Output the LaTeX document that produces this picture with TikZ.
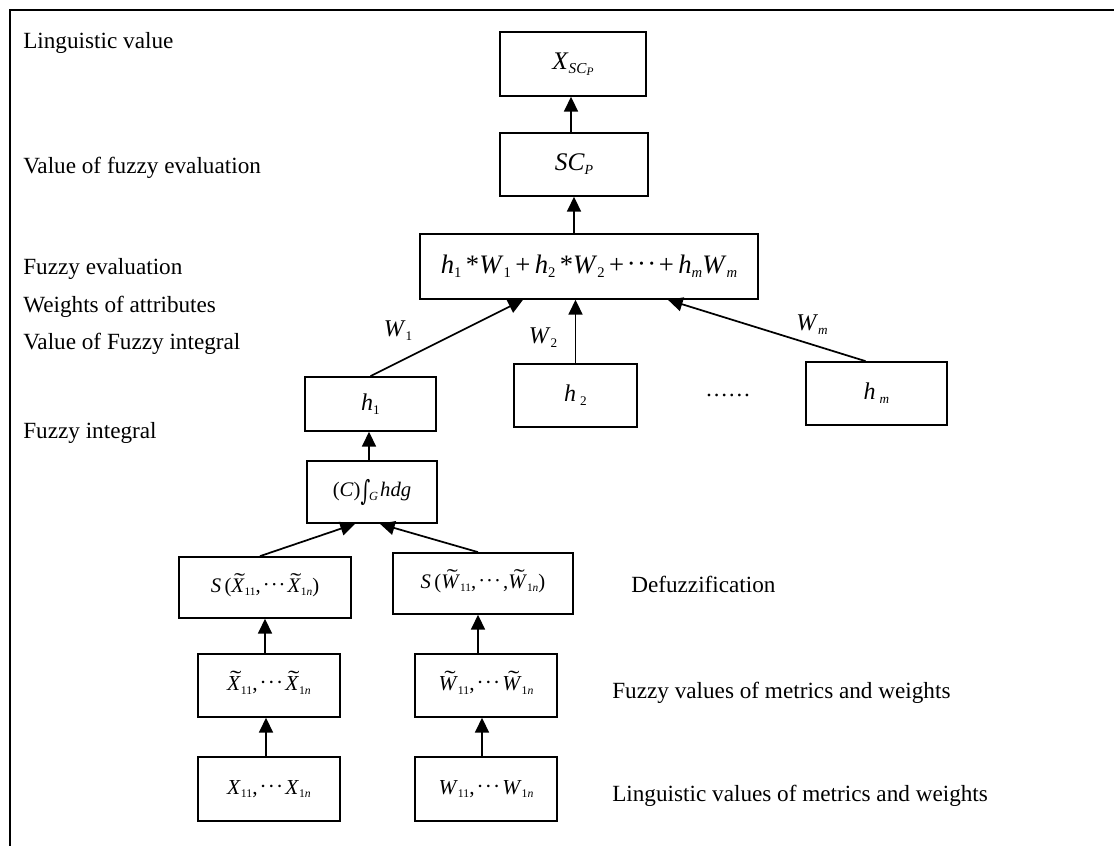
\documentclass[tikz,border=0pt]{standalone}
\usepackage{fontspec}
\usepackage{graphicx}
\setmainfont{Liberation Serif}
\newfontfamily\intfont{DejaVu Serif}
\usetikzlibrary{arrows.meta}
\newdimen\upx \upx=0.75pt
\makeatletter
% small lowered index, scaled from the current font size
\newcommand\lsub[2][0.55]{\raisebox{-0.35ex}{\fontsize{\the\dimexpr\f@size pt*\numexpr\dimexpr#1pt\relax\relax/65536\relax}{1em}\selectfont #2}}
\makeatother
% italic capital with a wide tilde above it
\newcommand\tw[1]{\leavevmode\setbox0=\hbox{\textit{#1}}%
  \hbox to\wd0{\hss\raisebox{0.26em}[0pt][0pt]{\kern0.16em\scalebox{1.6}[1]{\char"02DC}}\hss}\kern-\wd0\box0}
\newcommand\cds{\raisebox{0.05em}{\kern0.1em·\kern0.05em·\kern0.05em·\kern0.1em}}
\newcommand\integ{\raisebox{-0.15em}{\scalebox{0.9}[1.35]{\intfont ∫}}}
\begin{document}
\begin{tikzpicture}[x=0.75pt,y=-0.75pt,
  box/.style={draw, line width=1.3pt, inner sep=0pt, align=center},
  arr/.style={-{Triangle[length=11pt,width=10.5pt]}, line width=1.3pt},
  lbl/.style={anchor=west, inner sep=0pt, font=\fontsize{17.4}{20}\selectfont},
  wl/.style={inner sep=0pt, font=\fontsize{18}{20}\selectfont}]
\useasboundingbox (0,0) rectangle (1114,846);
\draw[line width=1pt] (10,846) -- (10,10) -- (1114,10);

% left-hand level labels
\node[lbl] (l1) at (23,43) {Linguistic value};
\node[lbl] (l2) at (23,168) {Value of fuzzy evaluation};
\node[lbl] (l3) at (23,269) {Fuzzy evaluation};
\node[lbl] (l4) at (23,307) {Weights of attributes};
\node[lbl] (l5) at (23,344) {Value of Fuzzy integral};
\node[lbl] (l6) at (23,433) {Fuzzy integral};
% right-hand level labels
\node[lbl] (r1) at (631,584) {Defuzzification};
\node[lbl] (r2) at (612,693) {Fuzzy values of metrics and weights};
\node[lbl] (r3) at (612,796) {Linguistic values of metrics and weights};

% boxes
\node[box, minimum width=146\upx, minimum height=64\upx, font=\fontsize{19}{20}\selectfont] (xsc) at (573,64)
  {\textit{X}\lsub[0.6]{\textit{SC}\lsub[0.75]{\textit{P}}}};
\node[box, minimum width=148\upx, minimum height=63\upx, font=\fontsize{19}{20}\selectfont] (scp) at (574,164.5)
  {\textit{SC}\lsub{\textit{P}}};
\node[box, minimum width=338\upx, minimum height=65\upx, font=\fontsize{20}{22}\selectfont] (sum) at (589,266.5)
  {\textit{h}\lsub{1}\,*\textit{W}\lsub{1}\,+\,\textit{h}\lsub{2}\,*\textit{W}\lsub{2}\,+\cds+\,\textit{h}\lsub{\textit{m}}\textit{W}\lsub{\textit{m}}};
\node[box, minimum width=131\upx, minimum height=54\upx, font=\fontsize{18}{20}\selectfont] (h1) at (370.5,404)
  {\textit{h}\lsub{1}};
\node[box, minimum width=123\upx, minimum height=63\upx, font=\fontsize{18}{20}\selectfont] (h2) at (575.5,395.5)
  {\textit{h}\,\lsub{2}};
\node[box, minimum width=141\upx, minimum height=63\upx, font=\fontsize{18}{20}\selectfont] (hm) at (876.5,393.5)
  {\textit{h}\,\lsub{\textit{m}}};
\node[wl] (dots) at (728,395) {\fontsize{17}{18}\selectfont ……};
\node[box, minimum width=130\upx, minimum height=62\upx, font=\fontsize{15.5}{18}\selectfont] (int) at (372,492)
  {(\textit{C})\integ\kern-0.05em\lsub[0.6]{\textit{G}}\kern0.1em\textit{hdg}};
\node[box, minimum width=172\upx, minimum height=61\upx, font=\fontsize{15.5}{18}\selectfont] (sx) at (265,587.5)
  {\textit{S}\,(\tw{X}\lsub{11},\cds\tw{X}\lsub{1\textit{n}})};
\node[box, minimum width=180\upx, minimum height=61\upx, font=\fontsize{15.5}{18}\selectfont] (sw) at (483,583.5)
  {\textit{S}\,(\tw{W}\lsub{11},\cds,\tw{W}\lsub{1\textit{n}})};
\node[box, minimum width=142\upx, minimum height=63\upx, font=\fontsize{16}{18}\selectfont] (xt) at (269,685.5)
  {\tw{X}\lsub{11},\cds\tw{X}\lsub{1\textit{n}}};
\node[box, minimum width=142\upx, minimum height=63\upx, font=\fontsize{16}{18}\selectfont] (wt) at (486,685.5)
  {\tw{W}\lsub{11},\cds\tw{W}\lsub{1\textit{n}}};
\node[box, minimum width=142\upx, minimum height=64\upx, font=\fontsize{16}{18}\selectfont] (x) at (269,789)
  {\textit{X}\lsub{11},\cds\textit{X}\lsub{1\textit{n}}};
\node[box, minimum width=142\upx, minimum height=64\upx, font=\fontsize{16}{18}\selectfont] (w) at (486,789)
  {\textit{W}\lsub{11},\cds\textit{W}\lsub{1\textit{n}}};

% connectors
\draw[arr] ([xshift=-3\upx]scp.north) -- ([xshift=-3\upx]scp.north |- xsc.south);
\draw[arr] (sum.north -| scp.south) -- (scp.south);
\draw[arr] (h1.north) -- ([xshift=-66\upx]sum.south);
\draw[arr] (h2.north) -- (h2.north |- sum.south);
\draw[arr] ([xshift=-11\upx]hm.north) -- ([xshift=79\upx]sum.south);
\draw[arr] ([xshift=-3\upx]int.north) -- ([xshift=-3\upx]int.north |- h1.south);
\draw[arr] ([xshift=-5\upx]sx.north) -- ([xshift=-17\upx]int.south);
\draw[arr] ([xshift=-5\upx]sw.north) -- ([xshift=8\upx]int.south);
\draw[arr] ([xshift=-4\upx]xt.north) -- ([xshift=-4\upx]xt.north |- sx.south);
\draw[arr] ([xshift=-8\upx]wt.north) -- ([xshift=-8\upx]wt.north |- sw.south);
\draw[arr] ([xshift=-3\upx]x.north) -- ([xshift=-3\upx]xt.south);
\draw[arr] ([xshift=-4\upx]w.north) -- ([xshift=-4\upx]wt.south);

% weight labels
\node[wl] (w1) at (398,331) {\textit{W}\lsub{1}};
\node[wl] (w2) at (543,338) {\textit{W}\lsub{2}};
\node[wl] (wm) at (812,325) {\textit{W}\lsub{\textit{m}}};
\end{tikzpicture}
\end{document}
